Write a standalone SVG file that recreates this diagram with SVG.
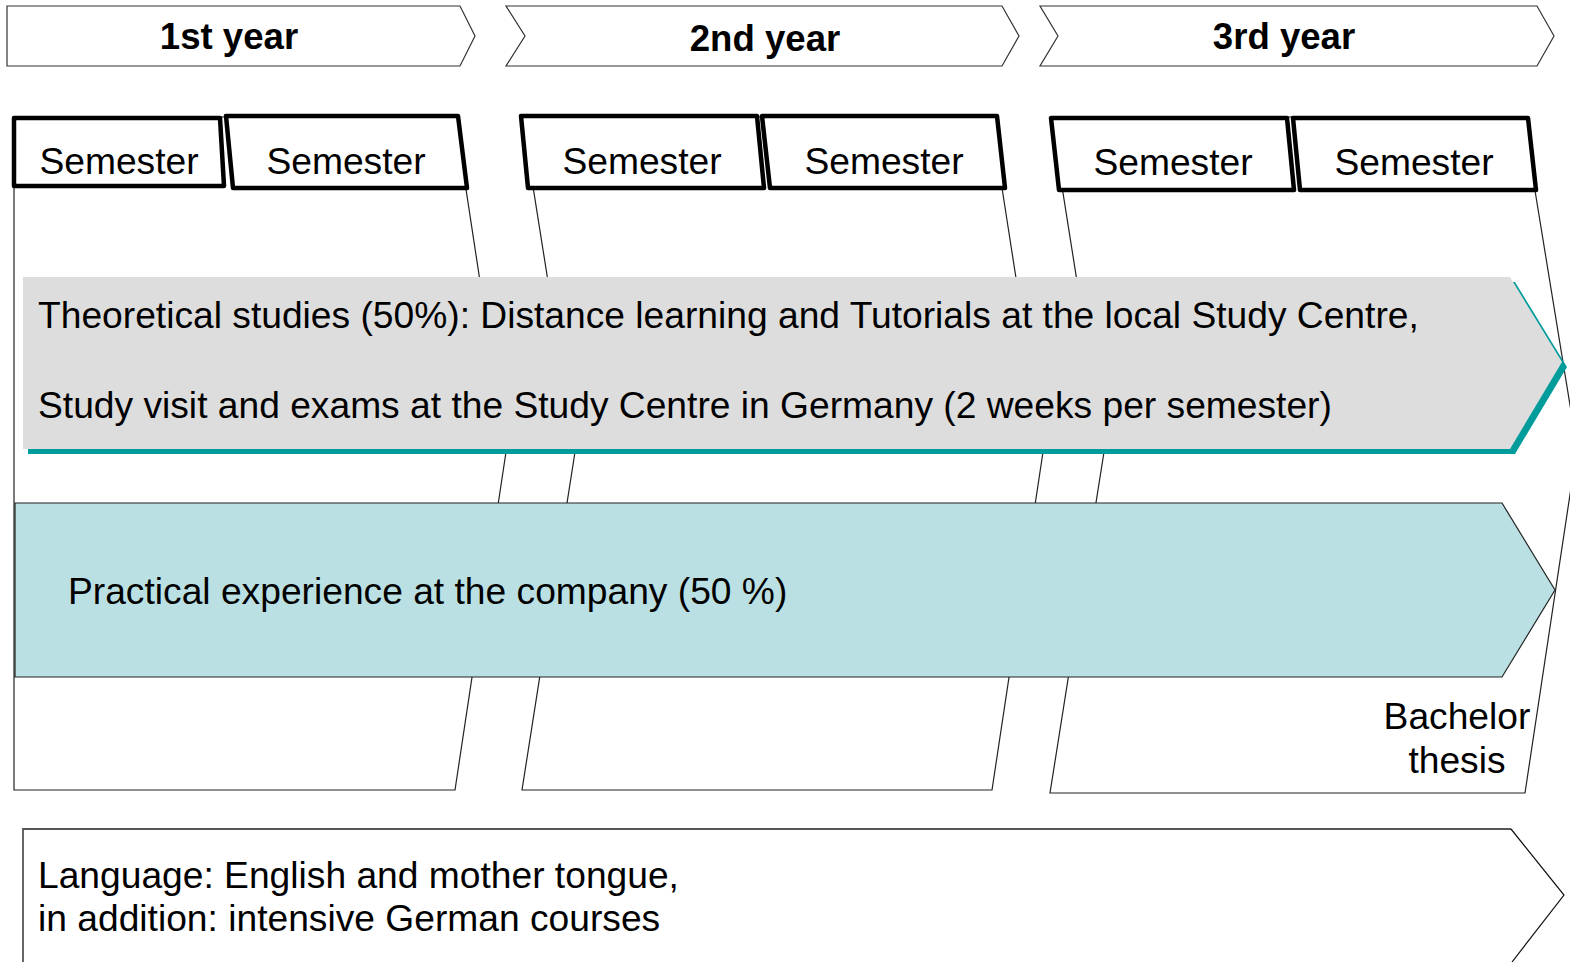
<svg xmlns="http://www.w3.org/2000/svg" width="1570" height="962" viewBox="0 0 1570 962">
<style>
.t{font-family:"Liberation Sans",Arial,sans-serif;font-size:37.2px;fill:#000}
.h{font-family:"Liberation Sans",Arial,sans-serif;font-size:36.6px;font-weight:bold;fill:#000;text-anchor:middle}
.c{text-anchor:middle}
.reg{fill:#fff;stroke:#222;stroke-width:1.2}
.sem{fill:#fff;stroke:#000;stroke-width:4.5;stroke-linejoin:round}
.hdr{fill:#fff;stroke:#333;stroke-width:1.2}
</style>
<rect width="1570" height="962" fill="#fff"/>
<g id="year-regions">
<polygon class="reg" points="14,117 455,117 506,452 455,790 14,790"/>
<polygon class="reg" points="522,117 991,117 1043,452 992,790 522,790 575,452"/>
<polygon class="reg" points="1051,117 1523,117 1577,448 1525,793 1050,793 1104,452"/>
</g>
<g id="semesters">
<g id="sem1"><polygon class="sem" points="14,118 220,118 224,186 14,186"/><text class="t c" x="119" y="174">Semester</text></g>
<g id="sem2"><polygon class="sem" points="226,116 458,116 467,188 233,188"/><text class="t c" x="346" y="174">Semester</text></g>
<g id="sem3"><polygon class="sem" points="521,116 757,116 764,188 528,188"/><text class="t c" x="642" y="174">Semester</text></g>
<g id="sem4"><polygon class="sem" points="762,116 997,116 1005,188 770,188"/><text class="t c" x="884" y="174">Semester</text></g>
<g id="sem5"><polygon class="sem" points="1051,118 1287,118 1294,190 1059,190"/><text class="t c" x="1173" y="175">Semester</text></g>
<g id="sem6"><polygon class="sem" points="1293,118 1528,118 1536,190 1300,190"/><text class="t c" x="1414" y="175">Semester</text></g>
</g>
<g id="theoretical">
<polygon points="28,282 1515,282 1567,367 1515,454 28,454" fill="#009B9B"/>
<polygon points="23,277 1510,277 1562,362 1510,449 23,449" fill="#DDDDDD"/>
<text class="t" x="38" y="328">Theoretical studies (50%): Distance learning and Tutorials at the local Study Centre,</text>
<text class="t" x="38" y="418">Study visit and exams at the Study Centre in Germany (2 weeks per semester)</text>
</g>
<g id="practical">
<polygon points="15,503 1502,503 1555,590 1502,677 15,677" fill="#BAE0E3" stroke="#222" stroke-width="1.2"/>
<text class="t" x="68" y="604">Practical experience at the company (50 %)</text>
</g>
<g id="bachelor">
<text class="t c" x="1457" y="729">Bachelor</text>
<text class="t c" x="1457" y="773">thesis</text>
</g>
<g id="language">
<polyline points="23,962 23,829 1511,829" fill="none" stroke="#555" stroke-width="1.8"/>
<polyline points="1511,829 1564,895 1512,962" fill="none" stroke="#111" stroke-width="1.2"/>
<text class="t" x="38" y="888">Language: English and mother tongue,</text>
<text class="t" x="38" y="931">in addition: intensive German courses</text>
</g>
<g id="years">
<g id="year1"><polygon class="hdr" points="7,6 460,6 475,36 460,66 7,66"/><text class="h" x="229" y="49">1st year</text></g>
<g id="year2"><polygon class="hdr" points="506,6 1002,6 1019,36 1002,66 506,66 525,36"/><text class="h" x="765" y="51">2nd year</text></g>
<g id="year3"><polygon class="hdr" points="1040,6 1537,6 1554,36 1537,66 1040,66 1058,36"/><text class="h" x="1284" y="49">3rd year</text></g>
</g>
<g id="connectors"></g>
</svg>
